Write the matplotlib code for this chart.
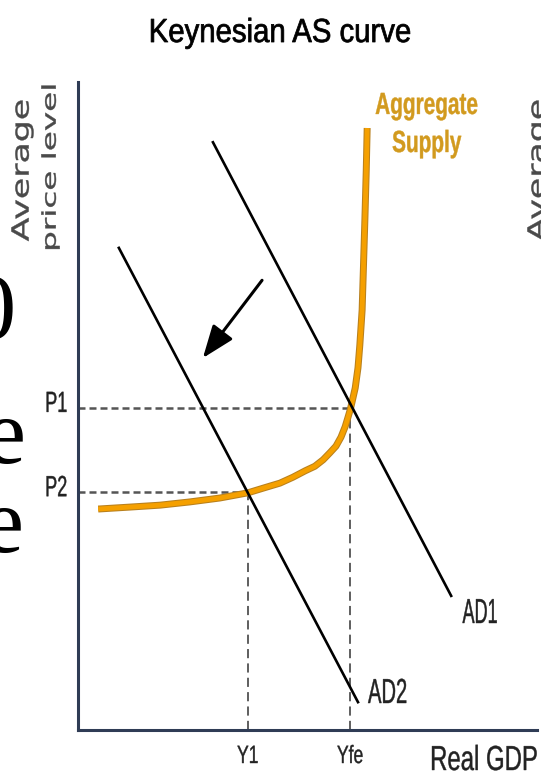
import matplotlib
matplotlib.use('Agg')
import matplotlib.pyplot as plt
import matplotlib.patheffects as pe
from matplotlib.transforms import Affine2D

# ---------------- data ----------------
# Aggregate supply curve (x = real GDP, y = price level)
as_x = [4.4, 11.3, 17.9, 24.4, 30.9, 37.0, 40.7, 44.0, 46.8, 49.5, 51.6,
        53.4, 54.9, 56.2, 57.3, 58.2, 58.8, 59.3, 59.7, 60.4, 61.0, 61.4,
        61.9, 62.1, 62.5, 62.8, 63.0]
as_y = [34.1, 34.4, 34.7, 35.2, 35.8, 36.6, 37.4, 38.1, 39.0, 40.0, 40.7,
        41.7, 42.8, 43.8, 45.2, 46.8, 48.2, 49.4, 50.6, 52.8, 55.9, 59.4,
        64.8, 69.4, 78.7, 86.4, 92.9]
# Aggregate demand curves (end points)
ad1_x = [29.4, 81.3]
ad1_y = [90.7, 20.7]
ad2_x = [8.9, 61.0]
ad2_y = [74.4, 4.3]
# shift arrow (from, to)
arrow_from = (40.1, 69.4)
arrow_to = (27.2, 57.4)
# equilibrium levels
gdp_levels = [37.0, 59.3]
gdp_labels = ['Y1', 'Yfe']
price_levels = [49.7, 36.7]
price_labels = ['P1', 'P2']
# pairs (gdp, price) of the two equilibria
equilibria = [(59.3, 49.7), (37.0, 36.7)]

title = 'Keynesian AS curve'
xlabel = 'Real GDP'
ylabel_lines = ['Average', 'price level']
as_label = 'Aggregate\nSupply'
ad_labels = ['AD1', 'AD2']

# ---------------- layout ----------------
W, H = 541, 776
SANS = ['Liberation Sans', 'DejaVu Sans']


class Squeeze(pe.AbstractPathEffect):
    """Scale the drawn text path about its own centre (narrow lettering)."""

    def __init__(self, sx=1.0, sy=1.0, lw=0.0):
        super().__init__()
        self.sx, self.sy, self.lw = sx, sy, lw

    def draw_path(self, renderer, gc, tpath, affine, rgbFace=None):
        ext = tpath.get_extents(affine)
        cx, cy = (ext.x0 + ext.x1) / 2, (ext.y0 + ext.y1) / 2
        a = affine + Affine2D().translate(-cx, -cy).scale(self.sx, self.sy).translate(cx, cy)
        gc0 = renderer.new_gc()
        gc0.copy_properties(gc)
        if self.lw and rgbFace is not None:
            gc0.set_linewidth(self.lw)
            gc0.set_foreground(rgbFace)
        renderer.draw_path(gc0, tpath, a, rgbFace)
        gc0.restore()


def px(x, y):
    return x / W, 1 - y / H


fig = plt.figure(figsize=(W / 100, H / 100), dpi=100)
fig.patch.set_facecolor('white')

ax = fig.add_axes([78 / W, (H - 730) / H, (537 - 78) / W, (730 - 82) / H])
ax.set_xlim(0, 100)
ax.set_ylim(0, 100)
for s in ['top', 'right']:
    ax.spines[s].set_visible(False)
for s in ['left', 'bottom']:
    ax.spines[s].set_color('#2F3C55')
    ax.spines[s].set_linewidth(2.2)
    ax.spines[s].set_zorder(6)
ax.set_xticks([])
ax.set_yticks([])

# level labels on the axes
for lvl, lab in zip(gdp_levels, gdp_labels):
    ax.annotate(lab, xy=(lvl, 0), xycoords=('data', 'axes fraction'),
                xytext=(0, -33), textcoords='offset pixels',
                ha='center', va='baseline', fontsize=18, family=SANS,
                color='#222222', annotation_clip=False,
                path_effects=[Squeeze(0.7, lw=0.3)])
for lvl, lab in zip(price_levels, price_labels):
    ax.annotate(lab, xy=(0, lvl), xycoords=('axes fraction', 'data'),
                xytext=(-22, -4), textcoords='offset pixels',
                ha='center', va='baseline', fontsize=21, family=SANS,
                color='#222222', annotation_clip=False,
                path_effects=[Squeeze(0.62, lw=0.3)])

# dashed guide lines
for gx, py in equilibria:
    ax.plot([0, gx], [py, py], color='#555555', lw=1.8, dashes=(2.8, 1.6),
            solid_capstyle='butt', zorder=1)
    ax.plot([gx, gx], [0, py], color='#333333', lw=1.1, dashes=(6.0, 3.4),
            zorder=1)

# aggregate supply curve
ax.plot(as_x, as_y, color='#F5A000', lw=3.5, solid_capstyle='butt',
        solid_joinstyle='round', zorder=3,
        path_effects=[pe.Stroke(linewidth=5.0, foreground='#B8801E'),
                      pe.Normal()])

# aggregate demand curves
ax.plot(ad1_x, ad1_y, color='black', lw=1.9, zorder=4)
ax.plot(ad2_x, ad2_y, color='black', lw=1.9, zorder=4)

# shift arrow
ax.annotate('', xy=arrow_to, xytext=arrow_from,
            arrowprops=dict(arrowstyle='-|>,head_length=1.0,head_width=0.38',
                            mutation_scale=20, color='black', lw=2.2,
                            shrinkA=0, shrinkB=0), zorder=5)

# curve labels
ax.text((480.5 - 78) / 4.59, (730 - 623) / 6.48, ad_labels[0], fontsize=25,
        family=SANS, ha='center', va='baseline', color='#222222',
        clip_on=False, path_effects=[Squeeze(0.52, lw=0.3)])
ax.text((388 - 78) / 4.59, (730 - 703) / 6.48, ad_labels[1], fontsize=25,
        family=SANS, ha='center', va='baseline', color='#222222',
        clip_on=False, path_effects=[Squeeze(0.58, lw=0.3)])
ax.text((426.5 - 78) / 4.59, (730 - 152) / 6.48, as_label, fontsize=22,
        family=SANS, weight='bold', ha='center', va='baseline',
        color='#D29A1E', linespacing=1.35, clip_on=False,
        path_effects=[Squeeze(0.68, lw=0.3)])

# title and axis labels
fig.text(*px(280, 42), title, fontsize=24, family=SANS,
         ha='center', va='baseline', color='black',
         path_effects=[Squeeze(0.88, lw=0.55)])
fig.text(*px(484, 770), xlabel, fontsize=25, family=SANS,
         ha='center', va='baseline', color='#222222',
         path_effects=[Squeeze(0.69, lw=0.3)])
fig.text(*px(21.5, 170), ylabel_lines[0], fontsize=25, family='DejaVu Sans',
         rotation=90, ha='center', va='center', color='#4a4a4a',
         path_effects=[Squeeze(0.68, lw=0.3)])
fig.text(*px(50, 167.5), ylabel_lines[1], fontsize=23.5, family='DejaVu Sans',
         rotation=90, ha='center', va='center', color='#4a4a4a',
         path_effects=[Squeeze(0.58, lw=0.3)])
# the neighbouring panel's label, cut by the right edge
fig.text(*px(537.5, 170), ylabel_lines[0], fontsize=25, family='DejaVu Sans',
         rotation=90, ha='center', va='center', color='#4a4a4a',
         path_effects=[Squeeze(0.68, lw=0.3)])

# fragments of the slide text behind the picture, cut by the left edge
fig.text(*px(-8, 338), '0', fontsize=68, family='Liberation Serif',
         ha='center', va='baseline', color='black')
fig.text(*px(4, 463), 'e', fontsize=68, family='Liberation Serif',
         ha='center', va='baseline', color='black')
fig.text(*px(2, 552), 'e', fontsize=68, family='Liberation Serif',
         ha='center', va='baseline', color='black')

fig.savefig('out.png', dpi=100, facecolor='white')
